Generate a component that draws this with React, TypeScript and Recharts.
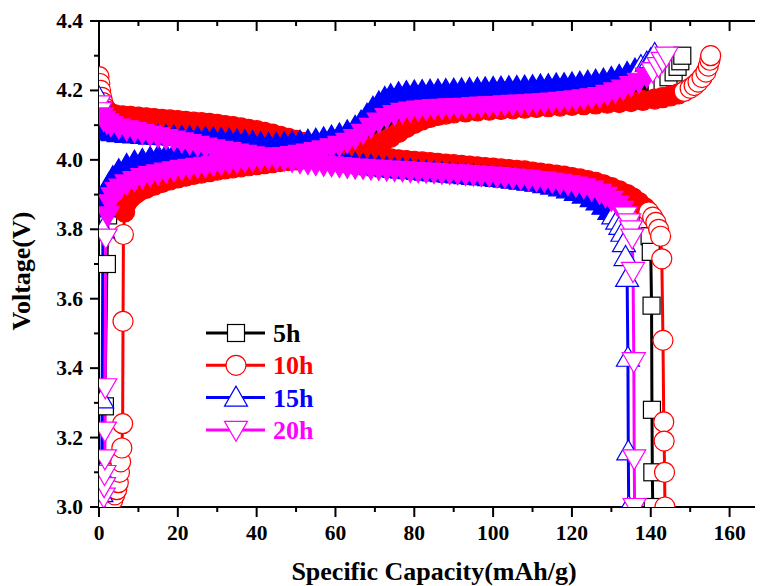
import React from 'react';
import { LineChart, Line, XAxis, YAxis, Legend, Customized } from 'recharts';

type P = [number, number];

// Specific capacity (mAh/g), voltage (V)
const charge5h: P[] = [[1.0,3.02],[1.2,3.1],[1.5,3.29],[2.0,3.70],[2.3,3.84],[3,3.88],[4,3.9],[5,3.915],[7,3.93],[9,3.94],[11,3.948],[13,3.955],[15,3.96],[17,3.965],[19,3.969],[21,3.973],[23,3.977],[25,3.98],[27,3.983],[29,3.986],[31,3.989],[33,3.992],[35,3.995],[37,3.998],[39,4.0],[41,4.003],[43,4.006],[45,4.009],[47,4.012],[49,4.015],[51,4.018],[53,4.022],[55,4.026],[57,4.031],[59,4.037],[61,4.044],[63,4.052],[65,4.061],[67,4.071],[69,4.082],[71,4.093],[73,4.104],[75,4.114],[77,4.123],[79,4.13],[81,4.136],[83,4.14],[86,4.145],[89,4.148],[92,4.15],[95,4.152],[98,4.154],[101,4.156],[104,4.158],[107,4.16],[110,4.162],[113,4.164],[116,4.166],[119,4.168],[122,4.171],[125,4.174],[128,4.178],[131,4.183],[134,4.189],[137,4.196],[139.5,4.205],[141.5,4.215],[143,4.225],[144.5,4.238],[145.8,4.252],[146.8,4.268],[147.5,4.284],[148,4.30]];
const discharge5h: P[] = [[0,4.19],[0.3,4.16],[0.7,4.14],[1.2,4.125],[2,4.115],[3,4.11],[5,4.105],[8,4.1],[11,4.095],[14,4.09],[17,4.085],[20,4.08],[23,4.075],[26,4.07],[29,4.064],[32,4.058],[35,4.051],[38,4.044],[41,4.037],[44,4.03],[47,4.024],[50,4.018],[53,4.012],[56,4.007],[59,4.002],[62,3.998],[65,3.994],[68,3.99],[71,3.987],[74,3.984],[77,3.981],[80,3.979],[83,3.977],[86,3.975],[89,3.973],[92,3.971],[95,3.969],[98,3.967],[101,3.964],[104,3.962],[107,3.959],[110,3.956],[113,3.952],[116,3.948],[119,3.943],[122,3.937],[125,3.929],[128,3.92],[130.5,3.908],[132.5,3.895],[134.5,3.88],[136,3.868],[137.5,3.855],[138.5,3.835],[139.2,3.81],[139.7,3.78],[140,3.735],[140.2,3.58],[140.3,3.28],[140.4,3.10],[140.5,3.0]];

const charge10h: P[] = [[3.5,3.02],[4,3.035],[4.5,3.05],[4.9,3.07],[5.2,3.1],[5.5,3.13],[5.8,3.17],[6,3.24],[6.1,3.535],[6.2,3.785],[6.5,3.85],[7,3.875],[8,3.89],[9,3.9],[10,3.908],[12,3.918],[14,3.927],[16,3.935],[18,3.942],[20,3.948],[22,3.953],[24,3.958],[26,3.962],[28,3.966],[30,3.97],[32,3.974],[34,3.977],[36,3.98],[38,3.983],[40,3.986],[42,3.989],[44,3.992],[46,3.995],[48,3.998],[50,4.0],[52,4.003],[54,4.006],[56,4.009],[58,4.012],[60,4.015],[62,4.019],[64,4.023],[66,4.028],[68,4.035],[70,4.043],[72,4.053],[74,4.065],[76,4.079],[78,4.093],[80,4.105],[82,4.115],[84,4.122],[86,4.128],[88,4.132],[90,4.135],[93,4.138],[96,4.141],[99,4.143],[102,4.145],[105,4.147],[108,4.149],[111,4.151],[114,4.153],[117,4.155],[120,4.157],[123,4.159],[126,4.161],[129,4.163],[132,4.165],[135,4.168],[138,4.171],[141,4.175],[143,4.179],[145,4.184],[147,4.19],[148.5,4.197],[150,4.206],[151,4.214],[152,4.224],[153,4.237],[154,4.253],[154.6,4.27],[155,4.287],[155.2,4.30]];
const discharge10h: P[] = [[0,4.24],[0.2,4.22],[0.4,4.2],[0.7,4.18],[1,4.165],[1.5,4.15],[2.2,4.14],[3,4.133],[4,4.13],[6,4.127],[8,4.125],[10,4.123],[12,4.121],[14,4.119],[16,4.117],[18,4.115],[20,4.113],[22,4.111],[24,4.109],[26,4.107],[28,4.105],[30,4.102],[32,4.099],[34,4.096],[36,4.092],[38,4.088],[40,4.084],[42,4.079],[44,4.074],[46,4.068],[48,4.062],[50,4.056],[52,4.05],[54,4.044],[56,4.038],[58,4.033],[60,4.028],[62,4.023],[64,4.019],[66,4.015],[68,4.012],[70,4.009],[72,4.006],[74,4.003],[76,4.0],[78,3.998],[80,3.996],[82,3.994],[84,3.992],[86,3.99],[88,3.988],[90,3.986],[92,3.984],[94,3.982],[96,3.98],[98,3.978],[100,3.976],[102,3.974],[104,3.972],[106,3.97],[108,3.968],[110,3.965],[112,3.962],[114,3.959],[116,3.956],[118,3.953],[120,3.949],[122,3.945],[124,3.94],[126,3.935],[128,3.928],[130,3.92],[132,3.911],[134,3.9],[135.5,3.89],[137,3.877],[138.5,3.862],[139.5,3.85],[140.5,3.835],[141.3,3.82],[142,3.8],[142.5,3.78],[142.8,3.715],[143.1,3.48],[143.3,3.245],[143.4,3.19],[143.5,3.10],[143.6,3.0]];

const charge15h: P[] = [[0.6,3.04],[0.7,3.10],[0.8,3.31],[1.0,3.80],[1.3,3.86],[1.8,3.9],[2.5,3.93],[3.5,3.95],[5,3.97],[7,3.985],[9,3.995],[11,4.0],[13,4.005],[15,4.01],[17,4.013],[19,4.016],[21,4.02],[23,4.022],[25,4.025],[27,4.027],[29,4.03],[31,4.032],[33,4.034],[35,4.036],[37,4.038],[39,4.04],[41,4.042],[43,4.044],[45,4.046],[47,4.048],[49,4.05],[51,4.052],[53,4.055],[55,4.058],[57,4.062],[59,4.067],[61,4.073],[63,4.082],[65,4.095],[66.5,4.11],[68,4.13],[69.5,4.15],[71,4.165],[72.5,4.178],[74,4.186],[76,4.192],[78,4.195],[80,4.197],[82,4.198],[84,4.199],[86,4.2],[88,4.201],[90,4.202],[92,4.203],[94,4.204],[96,4.205],[98,4.206],[100,4.207],[102,4.208],[104,4.209],[106,4.21],[108,4.211],[110,4.212],[112,4.214],[114,4.215],[116,4.217],[118,4.218],[120,4.22],[122,4.222],[124,4.225],[126,4.228],[128,4.231],[130,4.236],[132,4.242],[134,4.25],[136,4.26],[137.5,4.27],[139,4.28],[140,4.29],[141,4.305]];
const discharge15h: P[] = [[0,4.18],[0.2,4.14],[0.5,4.11],[1,4.095],[1.6,4.088],[2.5,4.083],[3.5,4.08],[5,4.077],[7,4.075],[9,4.073],[11,4.072],[13,4.07],[15,4.069],[17,4.068],[19,4.067],[21,4.066],[23,4.065],[25,4.064],[27,4.063],[29,4.062],[31,4.06],[33,4.058],[35,4.056],[37,4.054],[39,4.051],[41,4.048],[43,4.045],[45,4.041],[47,4.037],[49,4.032],[51,4.027],[53,4.021],[55,4.015],[57,4.009],[59,4.003],[61,3.998],[63,3.993],[65,3.989],[67,3.985],[69,3.982],[71,3.979],[73,3.976],[75,3.974],[77,3.972],[79,3.97],[81,3.968],[83,3.966],[85,3.964],[87,3.962],[89,3.96],[91,3.958],[93,3.956],[95,3.954],[97,3.952],[99,3.95],[101,3.948],[103,3.946],[105,3.943],[107,3.94],[109,3.937],[111,3.934],[113,3.93],[115,3.926],[117,3.921],[119,3.915],[121,3.908],[123,3.9],[125,3.89],[126.5,3.88],[128,3.868],[129.5,3.853],[130.5,3.84],[131.5,3.825],[132.3,3.81],[132.8,3.79],[133.2,3.76],[133.6,3.72],[134,3.66],[134.2,3.43],[134.3,3.16],[134.4,3.0]];

const charge20h: P[] = [[1.2,3.03],[1.3,3.06],[1.4,3.095],[1.5,3.14],[1.5,3.22],[1.6,3.345],[1.7,3.776],[2.2,3.84],[2.8,3.875],[3.5,3.895],[4.5,3.91],[5.5,3.92],[7,3.932],[9,3.942],[11,3.95],[13,3.956],[15,3.961],[17,3.966],[19,3.97],[21,3.974],[23,3.977],[25,3.98],[27,3.983],[29,3.986],[31,3.989],[33,3.992],[35,3.994],[37,3.997],[39,3.999],[41,4.002],[43,4.005],[45,4.008],[47,4.011],[49,4.014],[51,4.017],[53,4.021],[55,4.025],[57,4.03],[59,4.036],[61,4.043],[63,4.052],[65,4.063],[67,4.078],[69,4.095],[71,4.11],[73,4.123],[75,4.132],[77,4.138],[79,4.142],[81,4.145],[83,4.147],[85,4.149],[87,4.15],[89,4.151],[91,4.152],[93,4.153],[95,4.155],[97,4.156],[99,4.157],[101,4.158],[103,4.16],[105,4.161],[107,4.162],[109,4.163],[111,4.165],[113,4.166],[115,4.168],[117,4.17],[119,4.172],[121,4.174],[123,4.177],[125,4.18],[127,4.184],[129,4.19],[131,4.197],[133,4.205],[135,4.215],[137,4.225],[139,4.24],[140.5,4.255],[142,4.27],[143,4.285],[144,4.30]];
const discharge20h: P[] = [[0,4.16],[0.3,4.14],[0.7,4.125],[1.2,4.115],[2,4.107],[3,4.1],[5,4.093],[7,4.088],[9,4.083],[11,4.078],[13,4.073],[15,4.068],[17,4.063],[19,4.058],[21,4.053],[23,4.048],[25,4.043],[27,4.038],[29,4.033],[31,4.029],[33,4.025],[35,4.021],[37,4.017],[39,4.013],[41,4.01],[43,4.006],[45,4.003],[47,4.0],[49,3.997],[51,3.994],[53,3.991],[55,3.988],[57,3.986],[59,3.984],[61,3.982],[63,3.98],[65,3.978],[67,3.977],[69,3.975],[71,3.974],[73,3.972],[75,3.971],[77,3.97],[79,3.968],[81,3.967],[83,3.966],[85,3.965],[87,3.963],[89,3.962],[91,3.961],[93,3.959],[95,3.958],[97,3.956],[99,3.955],[101,3.953],[103,3.951],[105,3.949],[107,3.947],[109,3.945],[111,3.942],[113,3.94],[115,3.937],[117,3.934],[119,3.93],[121,3.926],[123,3.921],[125,3.914],[127,3.905],[128.5,3.896],[130,3.885],[131.5,3.871],[132.7,3.856],[133.7,3.84],[134.5,3.82],[135,3.8],[135.3,3.776],[135.5,3.68],[135.7,3.42],[135.8,3.14],[135.9,3.0]];

const seriesNames = ['5h', '10h', '15h', '20h'];
const xTicks = [0, 10, 20, 30, 40, 50, 60, 70, 80, 90, 100, 110, 120, 130, 140, 150, 160];
const yTicks = [3.0, 3.1, 3.2, 3.3, 3.4, 3.5, 3.6, 3.7, 3.8, 3.9, 4.0, 4.1, 4.2, 4.3, 4.4];

const toRows = (pts: P[]) => pts.map(([x, v]) => ({ x, v }));

// dense (overlapping) marker stretch of each curve, where the markers merge into a solid band
const SERIES = [
  { name: seriesNames[0], color: '#000000', shape: 'square', charge: charge5h, discharge: discharge5h, cBand: [3, 141], dBand: [1.2, 136] },
  { name: seriesNames[1], color: '#FF0000', shape: 'circle', charge: charge10h, discharge: discharge10h, cBand: [6.5, 148], dBand: [2.2, 139] },
  { name: seriesNames[2], color: '#0000FF', shape: 'up', charge: charge15h, discharge: discharge15h, cBand: [1.3, 137], dBand: [0.5, 130] },
  { name: seriesNames[3], color: '#FF00FF', shape: 'down', charge: charge20h, discharge: discharge20h, cBand: [2.2, 139.5], dBand: [0.7, 132.7] },
];

const FONT = '"Liberation Serif", "Times New Roman", Times, serif';

function Marker({ shape, cx, cy, color, fill = '#ffffff' }: { shape: string; cx: number; cy: number; color: string; fill?: string }) {
  const common = { fill, stroke: color, strokeWidth: 1.2 };
  if (shape === 'square') return <rect x={cx - 8.5} y={cy - 8.5} width={17} height={17} {...common} />;
  if (shape === 'circle') return <circle cx={cx} cy={cy} r={10} {...common} />;
  if (shape === 'up')
    return <polygon points={`${cx},${cy - 11.5} ${cx - 11.5},${cy + 8.5} ${cx + 11.5},${cy + 8.5}`} {...common} />;
  return <polygon points={`${cx - 11.5},${cy - 8.5} ${cx + 11.5},${cy - 8.5} ${cx},${cy + 11.5}`} {...common} />;
}

const makeDot = (shape: string, color: string, band: number[]) => (p: any) => {
  if (p == null || p.cx == null || p.cy == null || isNaN(p.cx) || isNaN(p.cy)) return <g key={`n-${p?.index}`} />;
  const x = p.payload?.x;
  const solid = x != null && x >= band[0] && x <= band[1];
  return (
    <g key={`d-${p.index}`}>
      <Marker shape={shape} cx={p.cx} cy={p.cy} color={color} fill={solid ? color : '#ffffff'} />
    </g>
  );
};

const isMajorX = (v: number) => Math.round(v) % 20 === 0;
const isMajorY = (v: number) => Math.round(v * 10) % 2 === 0;

const BottomTick = (p: any) => {
  const v = p.payload.value;
  const major = isMajorX(v);
  return (
    <g>
      <line x1={p.x} x2={p.x} y1={p.y} y2={p.y + (major ? 10 : 5)} stroke="#000" strokeWidth={2} />
      {major && (
        <text x={p.x} y={p.y + 33} textAnchor="middle" fontFamily={FONT} fontWeight="bold" fontSize={21.5} fill="#000">
          {v}
        </text>
      )}
    </g>
  );
};
const TopTick = (p: any) => {
  const major = isMajorX(p.payload.value);
  return <line x1={p.x} x2={p.x} y1={p.y} y2={p.y + (major ? 10 : 5)} stroke="#000" strokeWidth={2} />;
};
const LeftTick = (p: any) => {
  const v = p.payload.value;
  const major = isMajorY(v);
  return (
    <g>
      <line x1={p.x - (major ? 9 : 5)} x2={p.x} y1={p.y} y2={p.y} stroke="#000" strokeWidth={2} />
      {major && (
        <text x={p.x - 16} y={p.y + 7} textAnchor="end" fontFamily={FONT} fontWeight="bold" fontSize={21.5} fill="#000">
          {Number(v).toFixed(1)}
        </text>
      )}
    </g>
  );
};
const RightTick = (p: any) => {
  const major = isMajorY(p.payload.value);
  return <line x1={p.x - (major ? 9 : 5)} x2={p.x} y1={p.y} y2={p.y} stroke="#000" strokeWidth={2} />;
};

const Titles = () => (
  <g fontFamily={FONT} fontWeight="bold" fontSize={26} fill="#000">
    <text x={434} y={580} textAnchor="middle">Specific Capacity(mAh/g)</text>
    <text x={30} y={271} textAnchor="middle" transform="rotate(-90 30 271)">Voltage(V)</text>
  </g>
);

const LegendBox = () => (
  <svg width={160} height={140} style={{ overflow: 'visible' }}>
    {SERIES.map((s, i) => {
      const cy = 23 + i * 32.3;
      return (
        <g key={s.name}>
          <line x1={6} x2={65} y1={cy} y2={cy} stroke={s.color} strokeWidth={3} />
          <Marker shape={s.shape} cx={36} cy={cy} color={s.color} />
          <text x={73} y={cy + 9} fontFamily={FONT} fontWeight="bold" fontSize={26} fill={s.color}>
            {s.name}
          </text>
        </g>
      );
    })}
  </svg>
);

const axisLine = { stroke: '#000', strokeWidth: 2 };

export default function App() {
  return (
    <div style={{ marginLeft: -8, marginTop: -8, width: 763, height: 586, overflow: 'hidden', background: '#fff' }}>
      <LineChart width={775} height={586} margin={{ top: 20, right: 5, bottom: 78, left: 98 }}>
        <XAxis xAxisId="b" dataKey="x" type="number" domain={[0, 170]} allowDataOverflow ticks={xTicks} interval={0}
          height={1} tickSize={0} tickMargin={0} tickLine={false} tick={BottomTick} axisLine={axisLine} />
        <XAxis xAxisId="t" orientation="top" dataKey="x" type="number" domain={[0, 170]} allowDataOverflow ticks={xTicks} interval={0}
          height={1} tickSize={0} tickMargin={0} tickLine={false} tick={TopTick} axisLine={axisLine} />
        <YAxis yAxisId="l" dataKey="v" type="number" domain={[3.0, 4.4]} allowDataOverflow ticks={yTicks} interval={0}
          width={1} tickSize={0} tickMargin={0} tickLine={false} tick={LeftTick} axisLine={axisLine} />
        <YAxis yAxisId="r" orientation="right" dataKey="v" type="number" domain={[3.0, 4.4]} allowDataOverflow ticks={yTicks} interval={0}
          width={1} tickSize={0} tickMargin={0} tickLine={false} tick={RightTick} axisLine={axisLine} />
        {SERIES.map((s) => [
          <Line
            key={`${s.name}-c`}
            xAxisId="b"
            yAxisId="l"
            data={toRows(s.charge)}
            dataKey="v"
            name={s.name}
            type="linear"
            stroke={s.color}
            strokeWidth={3}
            dot={makeDot(s.shape, s.color, s.cBand)}
            activeDot={false}
            isAnimationActive={false}
          />,
          <Line
            key={`${s.name}-d`}
            xAxisId="b"
            yAxisId="l"
            data={toRows(s.discharge)}
            dataKey="v"
            name={`${s.name} discharge`}
            legendType="none"
            type="linear"
            stroke={s.color}
            strokeWidth={3}
            dot={makeDot(s.shape, s.color, s.dBand)}
            activeDot={false}
            isAnimationActive={false}
          />,
        ])}
        <Legend
          layout="vertical"
          align="center"
          verticalAlign="middle"
          content={LegendBox}
          wrapperStyle={{ position: 'absolute', left: 200, top: 310, width: 160, height: 140 }}
        />
        <Customized component={Titles} />
      </LineChart>
    </div>
  );
}
